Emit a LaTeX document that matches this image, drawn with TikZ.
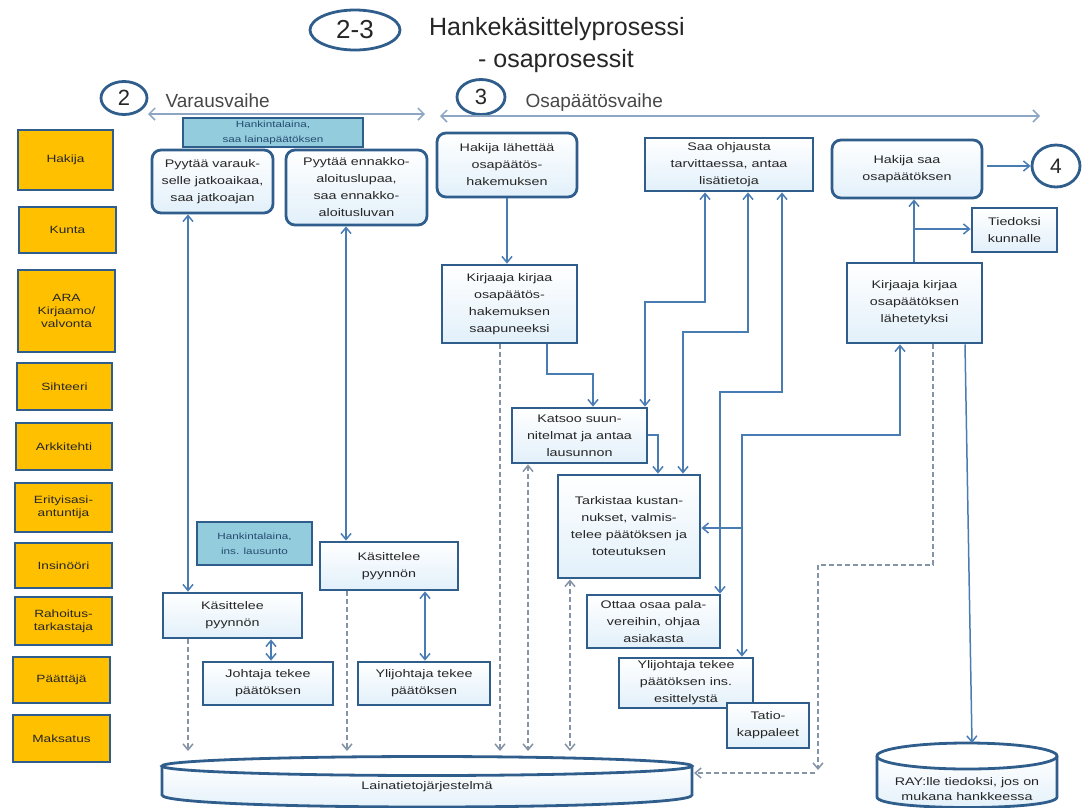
\documentclass[tikz,border=0pt]{standalone}
\usepackage{fontspec}
\setmainfont{Liberation Sans}
\newfontfamily\widefont[FakeStretch=1.3]{Liberation Sans}
\usetikzlibrary{arrows.meta,shapes.geometric}

\definecolor{edgeblue}{HTML}{2F5D8C}
\definecolor{linkblue}{HTML}{4A7CB4}
\definecolor{dashgray}{HTML}{8593A6}
\definecolor{phasec}{HTML}{8DA6C4}
\definecolor{roleorange}{HTML}{FFC000}
\definecolor{tealfill}{HTML}{93CDDD}
\definecolor{boxbot}{HTML}{E2F0FA}
\definecolor{inkc}{HTML}{262626}

\tikzset{
  proc/.style={draw=edgeblue, line width=2.8pt, top color=white, bottom color=boxbot,
    inner sep=0pt, align=center, text=inkc, font=\widefont\fontsize{11}{17}\selectfont},
  rproc/.style={proc, rounded corners=9pt},
  role/.style={draw=edgeblue, line width=2.8pt, fill=roleorange, inner sep=0pt,
    align=center, text=inkc, font=\widefont\fontsize{10.5}{13}\selectfont},
  note/.style={draw=edgeblue, line width=2.8pt, fill=tealfill, inner sep=0pt,
    align=center, text=edgeblue!80!black, font=\widefont\fontsize{9}{15}\selectfont},
  tag/.style={ellipse, draw=edgeblue, line width=2.8pt, fill=white, inner sep=0pt, text=inkc},
  link/.style={draw=linkblue, line width=1.5pt, -{Straight Barb[length=6pt,width=10pt]}},
  dlink/.style={draw=dashgray, line width=1.5pt, dash pattern=on 5pt off 3pt,
    -{Straight Barb[length=6pt,width=10pt]}},
  twoway/.style={{Straight Barb[length=6pt,width=10pt]}-{Straight Barb[length=6pt,width=10pt]}},
  phase/.style={draw=phasec, line width=1.5pt,
    {Straight Barb[length=6pt,width=12pt]}-{Straight Barb[length=6pt,width=12pt]}},
  cyl/.style={draw=edgeblue, line width=2.8pt},
}

% box by its corners: name, style, x1, y1, x2, y2, text
\newcommand\boxat[7]{\node[#2, minimum width={(#5)-(#3)}, minimum height={(#6)-(#4)}]
  (#1) at ({((#3)+(#5))/2},{((#4)+(#6))/2}) {#7};}

\begin{document}
\begin{tikzpicture}[x=1pt,y=-1pt]
\useasboundingbox (0,0) rectangle (1085,807);

% ---------- heading ----------
\node[tag, minimum width=90, minimum height=40, font=\fontsize{26}{30}\selectfont] (t23) at (355,30) {2-3};
\node[anchor=base, font=\fontsize{25}{30}\selectfont, text=inkc] (title1) at (557,35) {Hankekäsittelyprosessi};
\node[anchor=base, font=\fontsize{25}{30}\selectfont, text=inkc] (title2) at (556,67) {- osaprosessit};

% ---------- phases ----------
\node[tag, minimum width=46, minimum height=33, font=\fontsize{22}{26}\selectfont] (ph2) at (124,98) {2};
\node[anchor=base west, font=\fontsize{19}{22}\selectfont, text=inkc!85] (ph2t) at (162,107) {Varausvaihe};
\node[tag, minimum width=48, minimum height=35, font=\fontsize{22}{26}\selectfont] (ph3) at (481,97) {3};
\node[anchor=base west, font=\fontsize{19}{22}\selectfont, text=inkc!85] (ph3t) at (522,107) {Osapäätösvaihe};
\coordinate (p2a) at (148,114);
\coordinate (p2b) at (425,114);
\coordinate (p3a) at (440,116);
\coordinate (p3b) at (1040,116);
\draw[phase] (p2a) -- (p2b);
\draw[phase] (p3a) -- (p3b);

% ---------- roles ----------
\boxat{rHakija}{role}{18}{130}{113}{190}{Hakija}
\boxat{rKunta}{role}{19}{207}{116}{253}{Kunta}
\boxat{rAra}{role}{18}{270}{115}{352}{ARA\\Kirjaamo/\\valvonta}
\boxat{rSiht}{role}{17}{363}{112}{410}{Sihteeri}
\boxat{rArk}{role}{16}{423}{112}{470}{Arkkitehti}
\boxat{rErit}{role}{15}{483}{112}{532}{Erityisasi-\\antuntija}
\boxat{rIns}{role}{15}{543}{112}{588}{Insinööri}
\boxat{rRah}{role}{15}{597}{112}{645}{Rahoitus-\\tarkastaja}
\boxat{rPaat}{role}{13}{657}{110}{703}{Päättäjä}
\boxat{rMaks}{role}{13}{715}{110}{762}{Maksatus}

% ---------- reservation phase ----------
\boxat{loan1}{note}{183}{118}{363}{147}{Hankintalaina,\\saa lainapäätöksen}
\boxat{A1}{rproc}{152}{150}{273}{213}{Pyytää varauk-\\selle jatkoaikaa,\\saa jatkoajan}
\boxat{A2}{rproc}{286}{150}{427}{225}{Pyytää ennakko-\\aloituslupaa,\\saa ennakko-\\aloitusluvan}
\boxat{loan2}{note}{197}{522}{312}{565}{Hankintalaina,\\ins. lausunto}
\boxat{C1}{proc}{163}{593}{302}{638}{Käsittelee\\pyynnön}
\boxat{C2}{proc}{320}{542}{458}{590}{Käsittelee\\pyynnön}
\boxat{D1}{proc}{203}{662}{333}{705}{Johtaja tekee\\päätöksen}
\boxat{D2}{proc}{358}{662}{490}{705}{Ylijohtaja tekee\\päätöksen}

% ---------- partial decision phase ----------
\boxat{B1}{rproc}{437}{133}{577}{197}{Hakija lähettää\\osapäätös-\\hakemuksen}
\boxat{K1}{proc}{442}{265}{577}{343}{Kirjaaja kirjaa\\osapäätös-\\hakemuksen\\saapuneeksi}
\boxat{B2}{proc}{645}{138}{813}{191}{Saa ohjausta\\tarvittaessa, antaa\\lisätietoja}
\boxat{B3}{rproc}{832}{140}{982}{198}{Hakija saa\\osapäätöksen}
\node[tag, minimum width=48, minimum height=42, font=\fontsize{21}{25}\selectfont] (ph4) at (1056,166) {4};
\boxat{Tied}{proc}{972}{208}{1057}{252}{Tiedoksi\\kunnalle}
\boxat{K2}{proc}{847}{263}{982}{343}{Kirjaaja kirjaa\\osapäätöksen\\lähetetyksi}
\boxat{Kats}{proc}{512}{408}{647}{463}{Katsoo suun-\\nitelmat ja antaa\\lausunnon}
\boxat{Tark}{proc}{558}{475}{700}{578}{Tarkistaa kustan-\\nukset, valmis-\\telee päätöksen ja\\toteutuksen}
\boxat{Ott}{proc}{587}{595}{720}{648}{Ottaa osaa pala-\\vereihin, ohjaa\\asiakasta}
\boxat{Y2}{proc}{619}{658}{753}{708}{Ylijohtaja tekee\\päätöksen ins.\\esittelystä}
\boxat{Tat}{proc}{727}{703}{809}{748}{Tatio-\\kappaleet}

% ---------- storage cylinders ----------
\path[top color=white, bottom color=boxbot] (162,766) -- (162,795)
  .. controls (162,811) and (692,811) .. (692,795) -- (692,766) -- cycle;
\draw[cyl] (162,766) -- (162,795) .. controls (162,811) and (692,811) .. (692,795) -- (692,766);
\node[ellipse, draw=edgeblue, line width=2.8pt, fill=white, minimum width=530, minimum height=19, inner sep=0pt] (lainaTop) at (427,766) {};
\node[font=\widefont\fontsize{11}{15}\selectfont, text=inkc] (laina) at (427,787) {Lainatietojärjestelmä};

\path[top color=white, bottom color=boxbot] (877,756) -- (877,797)
  .. controls (877,811) and (1057,811) .. (1057,797) -- (1057,756) -- cycle;
\draw[cyl] (877,756) -- (877,797) .. controls (877,811) and (1057,811) .. (1057,797) -- (1057,756);
\node[ellipse, draw=edgeblue, line width=2.8pt, fill=white, minimum width=180, minimum height=26, inner sep=0pt] (rayTop) at (967,756) {};
\node[align=center, font=\widefont\fontsize{11}{15}\selectfont, text=inkc] (ray) at (967,789) {RAY:lle tiedoksi, jos on\\mukana hankkeessa};

\coordinate (la1) at (188,751);
\coordinate (la2) at (347,751);
\coordinate (la3) at (500,751);
\coordinate (la4) at (528,751);
\coordinate (la5) at (570,751);
\coordinate (laE) at (694,773);
\coordinate (rayN) at (972,743);

% ---------- connectors: reservation phase ----------
\draw[link, twoway] (A1.south -| 188,0) -- (C1.north -| 188,0);
\draw[link, twoway] (A2.south -| 346,0) -- (C2.north -| 346,0);
\draw[link, twoway] (C1.south -| 271,0) -- (D1.north -| 271,0);
\draw[link, twoway] (C2.south -| 425,0) -- (D2.north -| 425,0);
\draw[dlink] (C1.south -| 188,0) -- (la1);
\draw[dlink] (C2.south -| 347,0) -- (la2);

% ---------- connectors: partial decision phase ----------
\draw[link] (B1.south -| 507,0) -- (K1.north -| 507,0);
\draw[dlink] (K1.south -| 500,0) -- (la3);
\draw[link] (K1.south -| 547,0) |- (593,374) -- (Kats.north -| 593,0);
\draw[link, twoway] (B2.south -| 705,0) |- (645,302) -- (Kats.north -| 645,0);
\draw[link, twoway] (B2.south -| 748,0) |- (683,332) -- (Tark.north -| 683,0);
\draw[link] (Kats.east |- 0,435) -| (Tark.north -| 658,0);
\draw[dlink, twoway] (Kats.south -| 528,0) -- (la4);
\draw[dlink, twoway] (Tark.south -| 570,0) -- (la5);
\draw[link, twoway] (B2.south -| 782,0) |- (720,392) -- (Ott.north -| 720,0);
\draw[link, twoway] (K2.south -| 900,0) |- (742,435) -- (Y2.north -| 742,0);
\coordinate (j1) at (742,528);
\draw[link] (j1) -- (Tark.east |- j1);
\draw[link] (K2.north -| 914,0) -- (B3.south -| 914,0);
\coordinate (j2) at (914,229);
\draw[link] (j2) -- (Tied.west |- j2);
\draw[link] (ph4.west -| 987,0) -- (ph4.west);
\draw[dlink] (K2.south -| 933,0) |- (818,565) -- (818,770);
\coordinate (d1) at (815,773);
\draw[dlink] (d1) -- (laE);
\draw[link] (K2.south -| 965,0) -- (rayN);
\end{tikzpicture}
\end{document}
